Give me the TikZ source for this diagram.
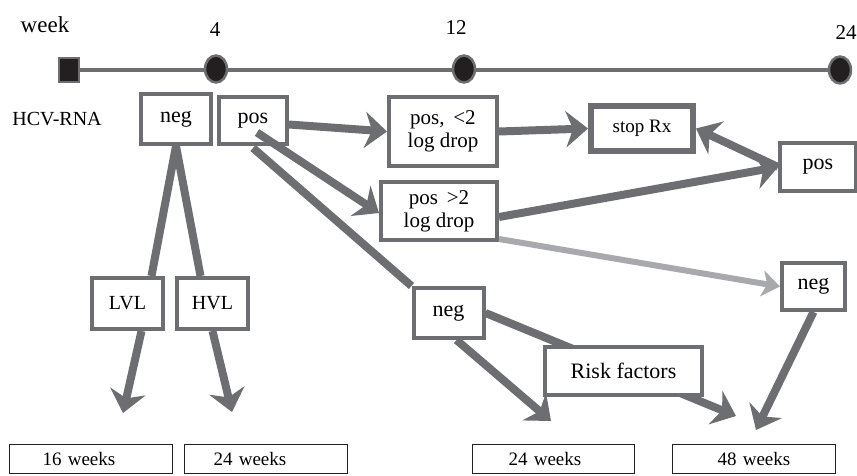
\documentclass[tikz,border=0pt]{standalone}
\usepackage{fontspec}
\setmainfont{Liberation Serif}
\usetikzlibrary{arrows.meta,calc,backgrounds,shapes.geometric}
\definecolor{lineGray}{HTML}{6D6E71}
\definecolor{paleGray}{HTML}{A7A9AC}
\definecolor{dotBlack}{HTML}{231F20}

\begin{document}
\begin{tikzpicture}[
    x=1pt, y=-1pt,
    font=\fontsize{21}{23}\selectfont,
    >={Stealth[length=22pt,width=36pt,inset=7pt]},
    box/.style={
        draw=lineGray,
        fill=white,
        line width=4pt,
        inner sep=3pt,
        align=center
    },
    smallbox/.style={
        box,
        minimum width=70pt,
        minimum height=50pt
    },
    weekbox/.style={
        draw=dotBlack,
        line width=1pt,
        anchor=north west,
        align=left,
        text width=97pt,
        inner xsep=33pt,
        inner ysep=8pt,
        font=\fontsize{19}{21}\selectfont
    },
    tick/.style={
        ellipse,
        draw=lineGray,
        fill=dotBlack,
        line width=2.5pt,
        minimum width=22pt,
        minimum height=27pt,
        inner sep=0pt
    },
    flow/.style={draw=lineGray, line width=8pt},
    faint/.style={draw=paleGray, line width=6pt}
]
\useasboundingbox (0,0) rectangle (857,476);
\clip (0,0) rectangle (857,476);

% Time line
\node[draw=lineGray, fill=dotBlack, line width=2.5pt, minimum width=20pt, minimum height=24pt, inner sep=0pt] (start) at (69,70) {};
\node[tick] (t4) at (216,69) {};
\node[tick] (t12) at (464,69) {};
\node[tick] (t24) at (840,70) {};
\node[font=\fontsize{23}{25}\selectfont] (weekLbl) at (45,25) {week};
\node (lbl4) at (215,30) {4};
\node (lbl12) at (456,28) {12};
\node (lbl24) at (846,33) {24};
\node[font=\fontsize{20}{22}\selectfont] (hcv) at (57,119) {HCV-RNA};

% Week 4 results
\node[smallbox, font=\fontsize{22}{24}\selectfont] (neg1) at (176,119) {neg};
\node[smallbox, minimum width=68pt, minimum height=47pt, font=\fontsize{22}{24}\selectfont] (pos1) at (253,120.5) {pos};

% Week 12 results
\node[box, minimum width=108pt, minimum height=69pt] (posA) at (443,131.5) {pos,\, \textless 2\\log drop};
\node[box, minimum width=116pt, minimum height=58pt] (posB) at (439,211) {pos\, \textgreater 2\\log drop};
\node[box, line width=6pt, minimum width=102pt, minimum height=45pt, font=\fontsize{19}{21}\selectfont] (stop) at (642,128.5) {stop Rx};
\node[smallbox, font=\fontsize{22}{24}\selectfont] (negM) at (448.5,313) {neg};

% Week 24 results
\node[box, minimum width=76pt, minimum height=47pt, font=\fontsize{22}{24}\selectfont] (posR) at (818,167) {pos};
\node[box, minimum width=63pt, minimum height=47pt, font=\fontsize{22}{24}\selectfont] (negR) at (813.5,286.5) {neg};

% Viral load
\node[smallbox, minimum width=71pt, minimum height=51pt, font=\fontsize{20}{22}\selectfont] (lvl) at (127.5,303.5) {LVL};
\node[smallbox, minimum width=71pt, minimum height=51pt, font=\fontsize{20}{22}\selectfont] (hvl) at (212.5,303.5) {HVL};

% Durations
\node[weekbox] (w16) at (9,444) {16 weeks};
\node[weekbox, inner xsep=29pt, text width=105pt] (w24a) at (184,444) {24 weeks};
\node[weekbox, inner xsep=36pt, text width=90pt] (w24b) at (472,444) {24 weeks};
\node[weekbox, inner xsep=45pt, text width=73pt] (w48) at (672,444) {48 weeks};

\coordinate (lvlEnd) at (123,413);
\coordinate (hvlEnd) at (232,412);
\coordinate (midEnd) at (551,421);
\coordinate (riskEnd) at (736,416);
\coordinate (rightEnd) at (756,430);

% Connectors
\draw[flow] (neg1.south) -- ($(lvl.north)+(24,0)$);
\draw[flow] (neg1.south) -- ($(hvl.north)+(-12,0)$);
\draw[flow, ->] ($(lvl.south)+(14,0)$) -- (lvlEnd);
\draw[flow, ->] (hvl.south) -- (hvlEnd);

\draw[flow, ->] ($(pos1.east)+(0,4)$) -- (posA.west);
\draw[flow, ->] ($(pos1.center)+(4,12)$) -- ($(posB.west)+(0,2)$);
\draw[flow] ($(pos1.south)+(0,2)$) -- (negM.north west);

\draw[flow, ->] (posA.east) -- (stop.west);
\draw[flow, ->] ($(posB.east)+(0,6)$) -- (posR.west);
\draw[flow, ->] (posR.west) -- (stop.east);
\draw[faint, -{Stealth[length=18pt,width=26pt,inset=5pt]}] ($(posB.south east)+(0,-3)$) -- (negR.west);

\draw[flow, ->] ($(negM.south)+(8,0)$) -- (midEnd);
\draw[flow, ->] (negR.south) -- (rightEnd);

\begin{scope}[on background layer]
    \draw[flow, ->] (negM.east) -- (riskEnd);
    \draw[lineGray, line width=4pt] (start) -- (t24);
\end{scope}

\node[box, minimum width=157pt, minimum height=48pt, font=\fontsize{22}{24}\selectfont] (risk) at (623.5,371) {Risk factors};

\end{tikzpicture}
\end{document}
